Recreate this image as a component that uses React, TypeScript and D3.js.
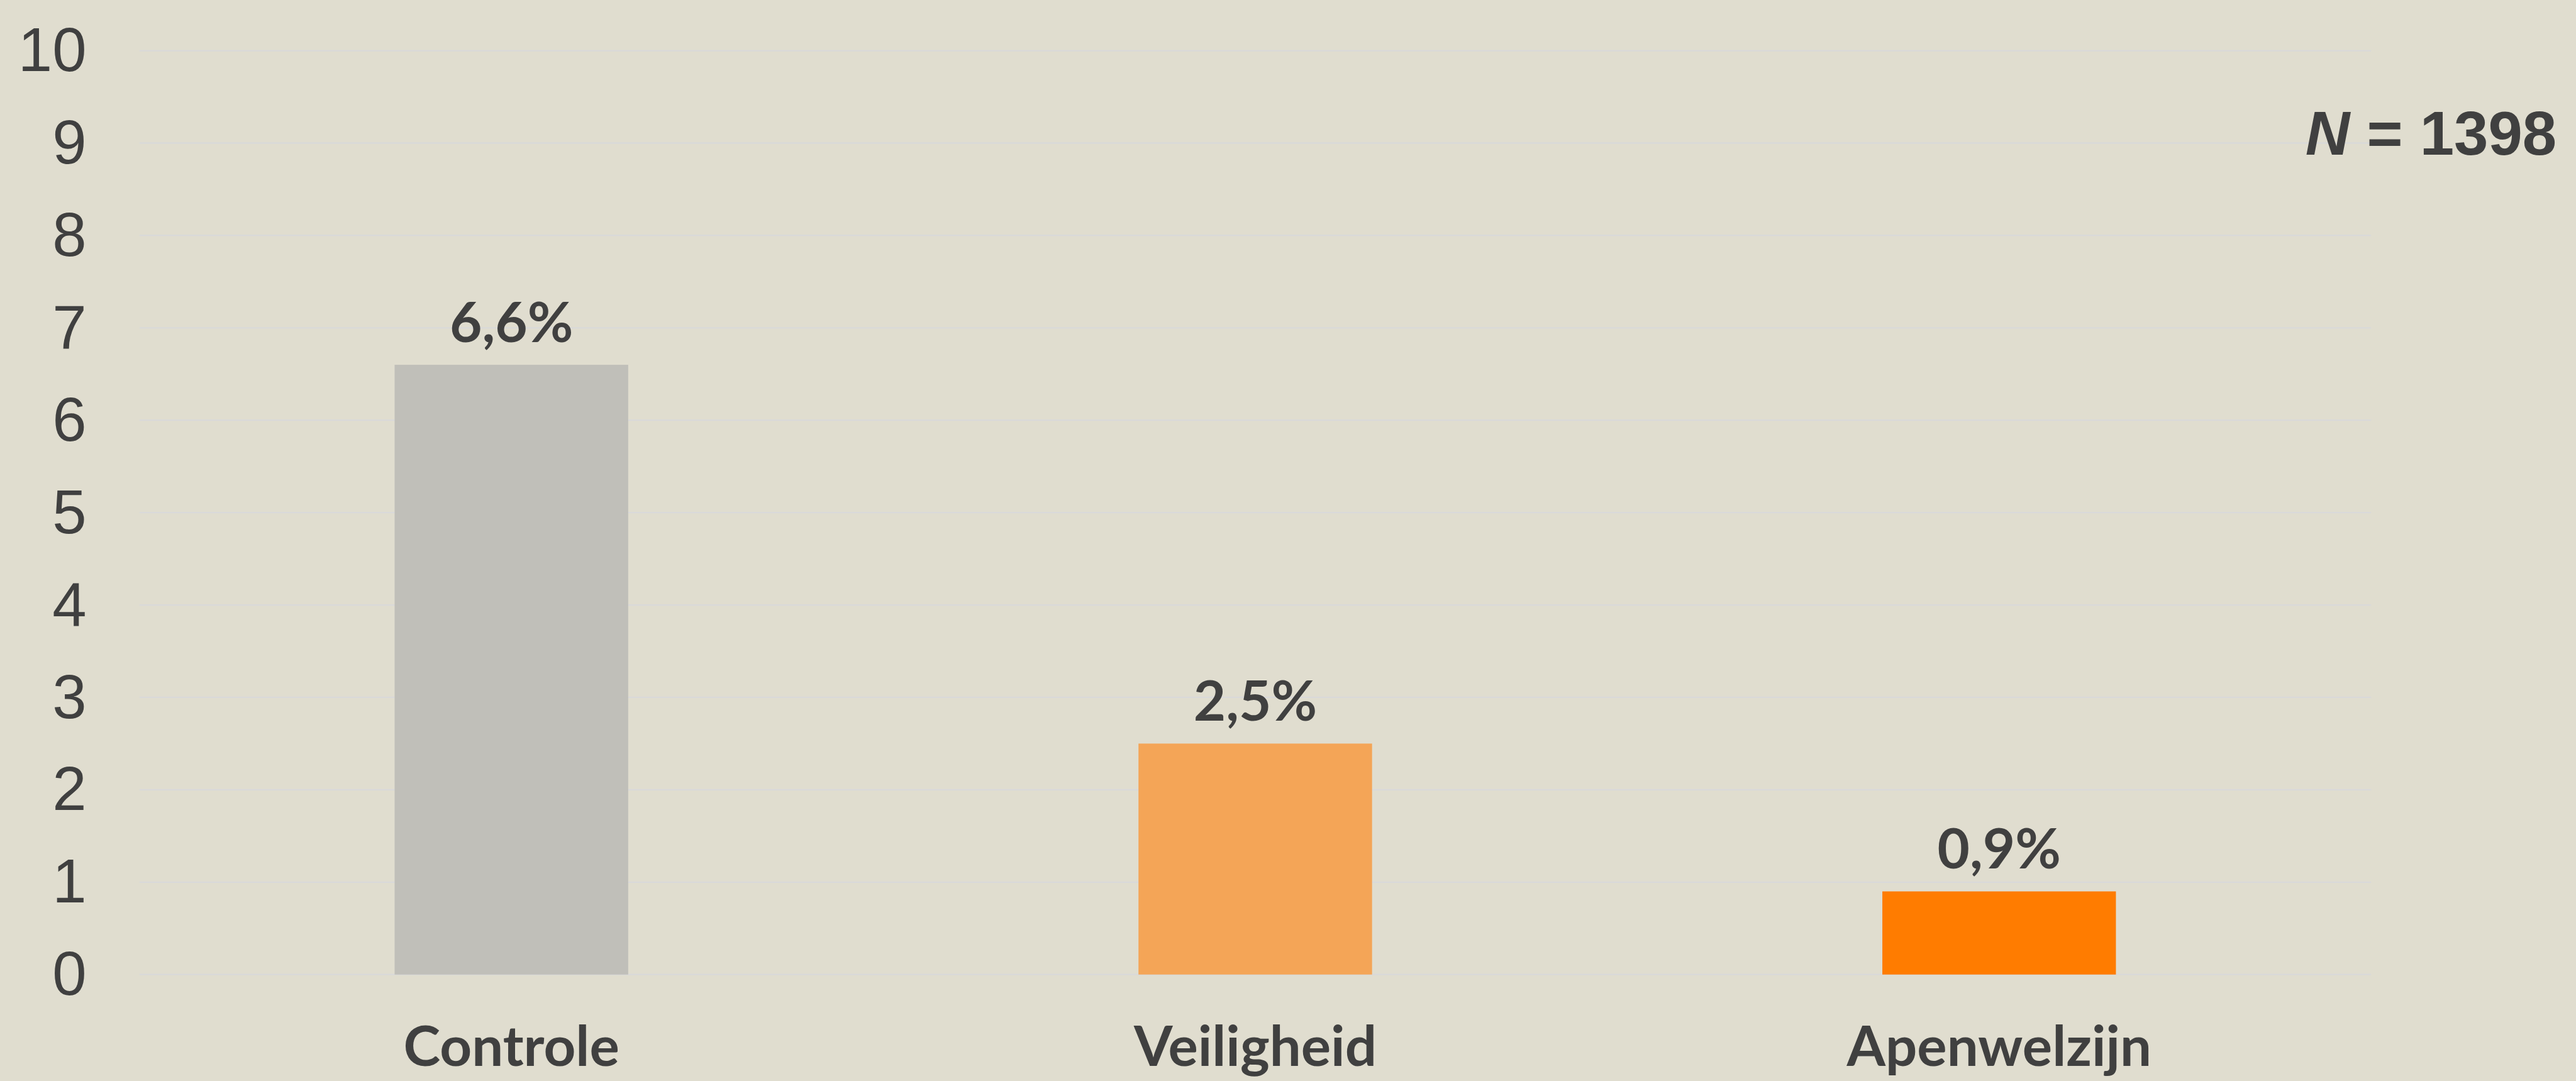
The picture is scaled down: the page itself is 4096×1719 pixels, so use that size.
import React from "react";
import * as d3 from "d3";

const categories = ["Controle", "Veiligheid", "Apenwelzijn"];
const values = [6.6, 2.5, 0.9];
const valueLabels = ["6,6%", "2,5%", "0,9%"];
const barColors = ["#C0BFB9", "#F4A557", "#FF7C00"];
const yTicks = [0, 1, 2, 3, 4, 5, 6, 7, 8, 9, 10];
const nLabel = "1398";

const W = 4525;
const H = 1899;

export default function App() {
  const x = d3
    .scaleBand<string>()
    .domain(categories)
    .range([245, 4165])
    .paddingInner(0.686)
    .paddingOuter(0.343);
  const y = d3.scaleLinear().domain([0, 10]).range([1712, 89]);
  const text = "#404040";
  const bold = "Lato, 'Noto Sans', sans-serif";
  const arial = "'Liberation Sans', Arial, sans-serif";

  return (
    <svg
      width={4096}
      height={1719}
      viewBox={`0 0 ${W} ${H}`}
      style={{ position: "fixed", left: 0, top: 0, display: "block" }}
    >
      <rect x={0} y={0} width={W} height={H} fill="#E0DDCF" />
      {yTicks.map((t) => (
        <g key={t}>
          <line
            x1={245}
            x2={4165}
            y1={y(t)}
            y2={y(t)}
            stroke="#D9D9D9"
            strokeWidth={2.5}
          />
          <text
            x={152}
            y={y(t) + 36}
            textAnchor="end"
            fontFamily={arial}
            fontSize={108}
            fill={text}
          >
            {t}
          </text>
        </g>
      ))}
      {categories.map((c, i) => {
        const bx = x(c)!;
        const bw = x.bandwidth();
        const cx = bx + bw / 2;
        return (
          <g key={c}>
            <rect
              x={bx}
              y={y(values[i])}
              width={bw}
              height={y(0) - y(values[i])}
              fill={barColors[i]}
            />
            <text
              x={cx}
              y={y(values[i]) - 40}
              textAnchor="middle"
              fontFamily={bold}
              fontWeight={700}
              fontSize={98}
              fill={text}
            >
              {valueLabels[i]}
            </text>
            <text
              x={cx}
              y={1872}
              textAnchor="middle"
              fontFamily={bold}
              fontWeight={700}
              fontSize={98}
              fill={text}
            >
              {c}
            </text>
          </g>
        );
      })}
      <text
        x={4491}
        y={272}
        textAnchor="end"
        fontFamily={arial}
        fontWeight={700}
        fontSize={108}
        fill={text}
      >
        <tspan fontStyle="italic">N</tspan>
        {" = " + nLabel}
      </text>
    </svg>
  );
}
